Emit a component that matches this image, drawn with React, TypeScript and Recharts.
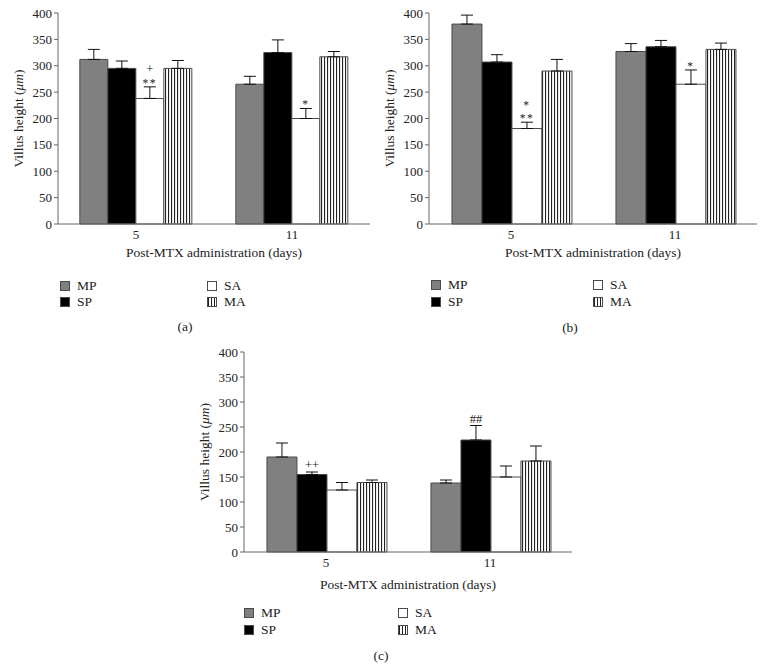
import React from 'react';
import { BarChart, Bar, XAxis, YAxis, ErrorBar, LabelList } from 'recharts';

// groups and legend
const days = ['5', '11'];
const groups = ['MP', 'SP', 'SA', 'MA'];
const yTicks = [0, 50, 100, 150, 200, 250, 300, 350, 400];

// panel (a) means / upper SEM
const aMP = [312, 265];
const aSP = [295, 325];
const aSA = [238, 200];
const aMA = [295, 317];
const aMPerr = [19, 15];
const aSPerr = [14, 24];
const aSAerr = [22, 19];
const aMAerr = [15, 10];
const aSAmarks = [['+', '**'], ['*']];

// panel (b)
const bMP = [379, 327];
const bSP = [307, 336];
const bSA = [181, 265];
const bMA = [290, 331];
const bMPerr = [17, 15];
const bSPerr = [14, 12];
const bSAerr = [12, 27];
const bMAerr = [22, 12];
const bSAmarks = [['*', '**'], ['*']];

// panel (c)
const cMP = [190, 138];
const cSP = [155, 224];
const cSA = [124, 150];
const cMA = [139, 182];
const cMPerr = [28, 6];
const cSPerr = [5, 29];
const cSAerr = [15, 22];
const cMAerr = [5, 30];
const cSPmarks = [['++'], ['##']];

const FONT = '"Liberation Serif", "DejaVu Serif", serif';
const AXIS = '#666';
const EDGE = '#4a4a4a';
const INK = '#222';

const buildRows = (vals: number[][], errs: number[][], marks: string[][]) =>
  days.map((d, i) => {
    const row: any = { day: d };
    groups.forEach((g, j) => {
      row[g] = vals[j][i];
      row[g + '_err'] = [0, errs[j][i]];
      row[g + '_up'] = errs[j][i];
    });
    row.markLines = marks[i];
    return row;
  });

const dataA = buildRows([aMP, aSP, aSA, aMA], [aMPerr, aSPerr, aSAerr, aMAerr], aSAmarks);
const dataB = buildRows([bMP, bSP, bSA, bMA], [bMPerr, bSPerr, bSAerr, bMAerr], bSAmarks);
const dataC = buildRows([cMP, cSP, cSA, cMA], [cMPerr, cSPerr, cSAerr, cMAerr], cSPmarks);

const fills = (id: string): Record<string, string> => ({
  MP: '#808080',
  SP: '#000000',
  SA: '#ffffff',
  MA: `url(#${id})`,
});

// significance marks stacked above the error bar of one series
const makeMarkLabel = (rows: any[], key: string, lineGap: number) => (props: any) => {
  const { x, y, width, height, index } = props;
  const row = rows[index];
  if (!row) return null;
  const pxPerUnit = height / row[key];
  const top = y - row[key + '_up'] * pxPerUnit;
  const lines: string[] = row.markLines || [];
  const cx = x + width / 2;
  const last = lines[lines.length - 1] || '';
  const lastBase = top - (last.includes('*') ? 0 : 3);
  const firstBase = lastBase - (lines.length - 1) * lineGap;
  return (
    <text x={cx} y={firstBase} textAnchor="middle" fontFamily={FONT} fontSize={11} style={{ fill: INK }}>
      {lines.map((t, i) => (
        <tspan key={i} x={cx} dy={i === 0 ? 0 : lineGap} fontSize={t.includes('*') ? 11.5 : 12.5}
          letterSpacing={t.includes('*') ? 1.5 : 0}>
          {t}
        </tspan>
      ))}
    </text>
  );
};

const YLabel = (props: any) => {
  const { viewBox } = props;
  const cx = viewBox.x + viewBox.width - 40;
  const cy = viewBox.y + viewBox.height / 2;
  return (
    <text x={cx} y={cy} transform={`rotate(-90 ${cx} ${cy})`} textAnchor="middle"
      dominantBaseline="central" fontFamily={FONT} fontSize={13.5} style={{ fill: INK }}>
      Villus height (<tspan fontStyle="italic">μm</tspan>)
    </text>
  );
};

const makeXLabel = (dy: number) => (props: any) => {
  const { viewBox } = props;
  return (
    <text x={viewBox.x + viewBox.width / 2} y={viewBox.y + dy} textAnchor="middle"
      fontFamily={FONT} fontSize={13.5} style={{ fill: INK }}>
      Post-MTX administration (days)
    </text>
  );
};

interface PanelProps {
  id: string;
  data: any[];
  markKey: string;
  lineGap: number;
  left: number;
  top: number;
  width: number;
  plotHeight: number;
  labelDy: number;
}

const Panel = ({ id, data, markKey, lineGap, left, top, width, plotHeight, labelDy }: PanelProps) => {
  const f = fills(id);
  const height = 13 + plotHeight + 30 + 14;
  return (
    <div style={{ position: 'absolute', left, top }}>
      <BarChart width={width} height={height} data={data} barGap={0} barCategoryGap="14%"
        margin={{ top: 13, right: 10, left: 0, bottom: 14 }}>
        <defs>
          <pattern id={id} width={3} height={8} patternUnits="userSpaceOnUse">
            <rect width={3} height={8} fill="#fff" />
            <rect x={0} width={1.1} height={8} fill="#222" />
          </pattern>
        </defs>
        <XAxis dataKey="day" tickLine={false} axisLine={{ stroke: AXIS }} tickSize={4} tickMargin={2}
          tick={{ fill: INK, fontSize: 13, fontFamily: FONT }} label={makeXLabel(labelDy)} />
        <YAxis domain={[0, 400]} ticks={yTicks} width={58} interval={0} tickSize={4} tickMargin={2}
          axisLine={{ stroke: AXIS }} tickLine={{ stroke: AXIS }}
          tick={{ fill: INK, fontSize: 13, fontFamily: FONT }} label={<YLabel />} />
        {groups.map(g => (
          <Bar key={g} dataKey={g} fill={f[g]} stroke={EDGE} strokeWidth={1} isAnimationActive={false}>
            <ErrorBar dataKey={g + '_err'} width={6} stroke="#111" strokeWidth={1} direction="y" />
            {g === markKey && <LabelList dataKey={g} content={makeMarkLabel(data, g, lineGap)} />}
          </Bar>
        ))}
      </BarChart>
    </div>
  );
};

const Legend = ({ x, y, colGap, rowGap, id }: { x: number; y: number; colGap: number; rowGap: number; id: string }) => {
  const swatch: Record<string, React.CSSProperties> = {
    MP: { background: '#808080' },
    SP: { background: '#000' },
    SA: { background: '#fff' },
    MA: { background: 'repeating-linear-gradient(90deg, #222 0 1px, #fff 1px 3px)' },
  };
  return (
    <>
      {groups.map((g, i) => {
        const col = Math.floor(i / 2);
        const row = i % 2;
        const cy = y + row * rowGap;
        const sx = x + col * colGap;
        return (
          <div key={id + g}>
            <div style={{ position: 'absolute', left: sx, top: cy - 5, width: 8, height: 8, border: `1px solid ${EDGE}`, ...swatch[g] }} />
            <div style={{ position: 'absolute', left: sx + 17, top: cy - 9, fontFamily: FONT, fontSize: 13.5, lineHeight: '18px', color: INK }}>{g}</div>
          </div>
        );
      })}
    </>
  );
};

const Caption = ({ x, y, text }: { x: number; y: number; text: string }) => (
  <div style={{ position: 'absolute', left: x - 20, top: y - 9, width: 40, textAlign: 'center', fontFamily: FONT, fontSize: 13.5, lineHeight: '18px', color: INK }}>
    {text}
  </div>
);

export default function App() {
  return (
    <div style={{ position: 'absolute', left: 0, top: 0, width: 767, height: 670, background: '#fff', overflow: 'hidden' }}>
      <Panel id="stripeA" data={dataA} markKey="SA" lineGap={14} left={0} top={0} width={380} plotHeight={211} labelDy={33} />
      <Panel id="stripeB" data={dataB} markKey="SA" lineGap={13.5} left={371} top={0} width={396} plotHeight={211} labelDy={33} />
      <Panel id="stripeC" data={dataC} markKey="SP" lineGap={10} left={186} top={339} width={396} plotHeight={200} labelDy={37} />
      <Legend id="a" x={60} y={285.5} colGap={147} rowGap={16.5} />
      <Legend id="b" x={431} y={285} colGap={162} rowGap={16.5} />
      <Legend id="c" x={244} y={613} colGap={154} rowGap={17} />
      <Caption x={185} y={327} text="(a)" />
      <Caption x={570} y={328} text="(b)" />
      <Caption x={381} y={656} text="(c)" />
    </div>
  );
}
